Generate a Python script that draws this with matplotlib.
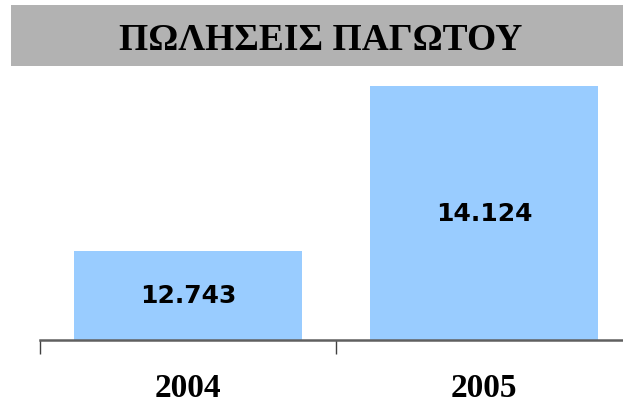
import matplotlib.pyplot as plt
import matplotlib.patches as patches

# Chart data
years = ['2004', '2005']
sales = [12743, 14124]
value_labels = ['12.743', '14.124']
title = 'ΠΩΛΗΣΕΙΣ ΠΑΓΩΤΟΥ'

W, H = 623, 406
fig = plt.figure(figsize=(W / 100, H / 100), dpi=100)

# Grey title band
band = patches.Rectangle((11 / W, 1 - 67 / H), (W - 11) / W, 61 / H,
                         transform=fig.transFigure, facecolor='#b2b2b2',
                         edgecolor='none')
fig.patches.append(band)
fig.text(321 / W, 1 - 41 / H, title, ha='center', va='center',
         fontsize=27, fontweight='bold', family='Liberation Serif')

# Plot area: x from 40px to 632px, baseline at 341px
ymin, ymax = 12000, 14200
k = 89 / (sales[0] - ymin)  # pixels per unit
ax_h = (ymax - ymin) * k
ax = fig.add_axes([40 / W, 1 - 341 / H, 592 / W, ax_h / H])

ax.bar(range(len(years)), sales, width=0.77, color='#99ccff', zorder=2)
for i, (v, lab) in enumerate(zip(sales, value_labels)):
    ax.text(i, (ymin + v) / 2, lab, ha='center', va='center',
            fontsize=18, fontweight='heavy', family='DejaVu Sans', zorder=3)

ax.set_xlim(-0.5, 1.5)
ax.set_ylim(ymin, ymax)

for s in ['top', 'right', 'left']:
    ax.spines[s].set_visible(False)
ax.spines['bottom'].set_color('#606060')
ax.spines['bottom'].set_linewidth(1.8)
ax.spines['bottom'].set_zorder(4)
ax.set_yticks([])

# Ticks at category boundaries, labels at category centres
ax.set_xticks([-0.5, 0.5, 1.5])
ax.set_xticklabels([])
ax.tick_params(axis='x', which='major', direction='out', length=10,
               width=1, color='#404040')
ax.set_xticks([0, 1], minor=True)
ax.set_xticklabels(years, minor=True, fontsize=24, fontweight='bold',
                   family='Liberation Serif')
ax.tick_params(axis='x', which='minor', length=0, pad=23)

plt.savefig('out.png', dpi=100)
